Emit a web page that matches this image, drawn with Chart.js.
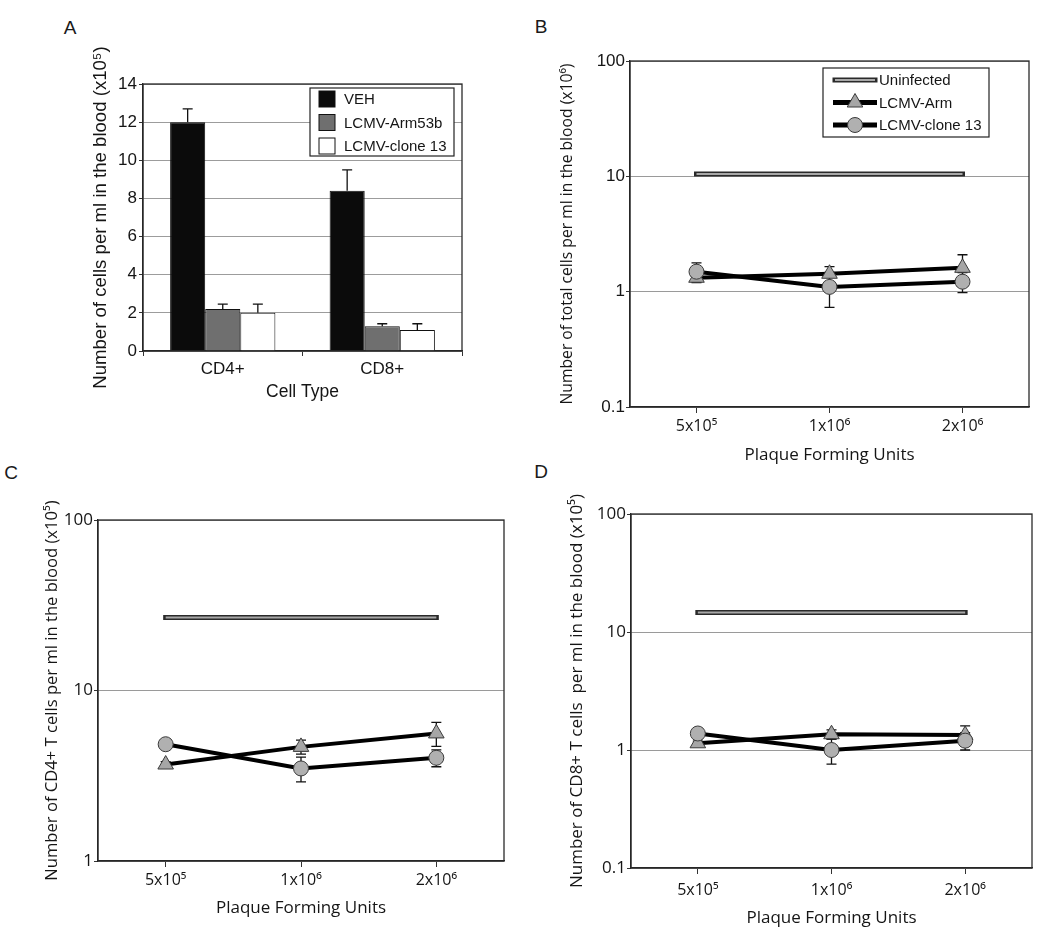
<!DOCTYPE html>
<html>
<head>
<meta charset="utf-8">
<script src="https://cdn.jsdelivr.net/npm/chart.js@4.4.1/dist/chart.umd.min.js"></script>
<style>
  body { margin: 0; background: #fff; width: 1050px; height: 933px; position: relative; overflow: hidden; }
  canvas { position: absolute; }
  .panel { position: absolute; font: 19px 'Liberation Sans', Arial, sans-serif; color: #1a1a1a; transform: translate(-50%, -50%); }
</style>
</head>
<body>
<div class="panel" style="left:70px;top:28px">A</div>
<div class="panel" style="left:541px;top:27px">B</div>
<div class="panel" style="left:11px;top:473px">C</div>
<div class="panel" style="left:541px;top:472px">D</div>
<canvas id="panelA" width="520" height="440" style="left:0;top:0"></canvas>
<canvas id="panelB" width="530" height="480" style="left:520px;top:0"></canvas>
<canvas id="panelC" width="520" height="493" style="left:0;top:440px"></canvas>
<canvas id="panelD" width="530" height="493" style="left:520px;top:440px"></canvas>
<script>
// panel A: cells per ml (x10^5)
const cellTypes = ['CD4+', 'CD8+'];
const vehCells = [12.0, 8.4];
const vehErr = [0.7, 1.1];
const arm53bCells = [2.2, 1.3];
const arm53bErr = [0.26, 0.13];
const clone13Cells = [2.0, 1.1];
const clone13Err = [0.46, 0.33];

// panels B-D share the dose axis
const pfuLabels = ['5x10\u2075', '1x10\u2076', '2x10\u2076'];

// B: total cells (x10^6)
const totalTicks = [0.1, 1, 10, 100];
const totalUninfected = [10.5, 10.5, 10.5];
const totalArm = [1.32, 1.43, 1.61];
const totalArmErr = [0.1, 0.22, 0.48];
const totalClone = [1.49, 1.1, 1.22];
const totalCloneErr = [0.29, 0.37, 0.24];

// C: CD4+ T cells (x10^5)
const cd4Ticks = [1, 10, 100];
const cd4Uninfected = [26.8, 26.8, 26.8];
const cd4Arm = [3.68, 4.67, 5.6];
const cd4ArmErr = [0.15, 0.44, 0.9];
const cd4Clone = [4.84, 3.49, 4.03];
const cd4CloneErr = [0.2, 0.58, 0.46];

// D: CD8+ T cells (x10^5)
const cd8Ticks = [0.1, 1, 10, 100];
const cd8Uninfected = [14.6, 14.6, 14.6];
const cd8Arm = [1.14, 1.36, 1.34];
const cd8ArmErr = [0.05, 0.12, 0.26];
const cd8Clone = [1.38, 1.0, 1.2];
const cd8CloneErr = [0.1, 0.24, 0.2];

const ARIAL = "'Liberation Sans', Arial, sans-serif";
const MYRIAD = "'Open Sans', sans-serif";
const INK = '#151515';

function drawErrors(chart) {
  const ctx = chart.ctx, y = chart.scales.y;
  chart.data.datasets.forEach((ds, i) => {
    if (!ds.errors) return;
    chart.getDatasetMeta(i).data.forEach((el, j) => {
      const v = ds.data[j], e = ds.errors[j];
      const top = y.getPixelForValue(v + e);
      const bot = ds.errorUpOnly ? y.getPixelForValue(v) : y.getPixelForValue(v - e);
      ctx.save();
      ctx.strokeStyle = '#111';
      ctx.lineWidth = 1.3;
      ctx.beginPath();
      ctx.moveTo(el.x, top); ctx.lineTo(el.x, bot);
      ctx.moveTo(el.x - 5, top); ctx.lineTo(el.x + 5, top);
      if (!ds.errorUpOnly) { ctx.moveTo(el.x - 5, bot); ctx.lineTo(el.x + 5, bot); }
      ctx.stroke();
      ctx.restore();
    });
  });
}

const errorBars = {
  id: 'errorBars',
  beforeDatasetsDraw(chart, args, opts) { if (opts.under) drawErrors(chart); },
  afterDatasetsDraw(chart, args, opts) { if (!opts.under) drawErrors(chart); }
};

const frame = {
  id: 'frame',
  afterDraw(chart) {
    const { ctx, chartArea: a } = chart;
    ctx.save();
    ctx.strokeStyle = '#2a2a2a';
    ctx.lineWidth = 1.3;
    ctx.strokeRect(a.left, a.top, a.right - a.left, a.bottom - a.top);
    ctx.restore();
  }
};

function marker(ctx, style, r, x, y) {
  ctx.beginPath();
  if (style === 'triangle') {
    ctx.moveTo(x, y - r);
    ctx.lineTo(x + r * 0.866, y + r * 0.5);
    ctx.lineTo(x - r * 0.866, y + r * 0.5);
    ctx.closePath();
  } else {
    ctx.arc(x, y, r, 0, Math.PI * 2);
  }
  ctx.fill();
  ctx.stroke();
}

const boxLegend = {
  id: 'boxLegend',
  afterDraw(chart, args, o) {
    const ctx = chart.ctx;
    ctx.save();
    ctx.fillStyle = '#fff';
    ctx.fillRect(o.x, o.y, o.w, o.h);
    ctx.strokeStyle = '#222';
    ctx.lineWidth = 1.2;
    ctx.strokeRect(o.x, o.y, o.w, o.h);
    ctx.font = '15px ' + ARIAL;
    ctx.textBaseline = 'middle';
    const items = chart.data.datasets.filter(d => d.label);
    items.forEach((d, i) => {
      const cy = o.y + o.first + i * o.step;
      if (chart.config.type === 'bar') {
        ctx.fillStyle = d.backgroundColor;
        ctx.strokeStyle = '#111';
        ctx.lineWidth = 1;
        ctx.fillRect(o.sx, cy - 8, 16, 16);
        ctx.strokeRect(o.sx, cy - 8, 16, 16);
      } else if (d.doubleLine) {
        ctx.lineCap = 'square';
        ctx.strokeStyle = d.borderColor; ctx.lineWidth = 5;
        ctx.beginPath(); ctx.moveTo(o.sx + 2, cy); ctx.lineTo(o.sx + o.sw - 2, cy); ctx.stroke();
        ctx.lineCap = 'butt';
        ctx.strokeStyle = '#a8a8a8'; ctx.lineWidth = 2;
        ctx.beginPath(); ctx.moveTo(o.sx + 2, cy); ctx.lineTo(o.sx + o.sw - 2, cy); ctx.stroke();
      } else {
        ctx.strokeStyle = d.borderColor; ctx.lineWidth = 5;
        ctx.beginPath(); ctx.moveTo(o.sx, cy); ctx.lineTo(o.sx + o.sw, cy); ctx.stroke();
        ctx.fillStyle = d.pointBackgroundColor; ctx.strokeStyle = d.pointBorderColor; ctx.lineWidth = 1;
        marker(ctx, d.pointStyle, d.pointRadius, o.sx + o.sw / 2, cy);
      }
      ctx.fillStyle = INK;
      ctx.fillText(d.label, o.tx, cy + 1);
    });
    ctx.restore();
  }
};

// ---------- panel A ----------
new Chart(document.getElementById('panelA'), {
  type: 'bar',
  data: {
    labels: cellTypes,
    datasets: [
      { label: 'VEH', data: vehCells, errors: vehErr, errorUpOnly: true, backgroundColor: '#0b0b0b' },
      { label: 'LCMV-Arm53b', data: arm53bCells, errors: arm53bErr, errorUpOnly: true, backgroundColor: '#6f6f6f' },
      { label: 'LCMV-clone 13', data: clone13Cells, errors: clone13Err, errorUpOnly: true, backgroundColor: '#ffffff' }
    ].map(d => Object.assign(d, { borderColor: '#111', borderWidth: 1, categoryPercentage: 0.66, barPercentage: 1 }))
  },
  options: {
    responsive: false, animation: false, events: [],
    layout: { padding: { top: 84, right: 58, left: 0, bottom: 0 } },
    plugins: {
      legend: { display: false }, tooltip: { enabled: false },
      errorBars: { under: false },
      boxLegend: { x: 310, y: 88, w: 144, h: 68, first: 11, step: 23.5, sx: 319, sw: 16, tx: 344 }
    },
    scales: {
      x: {
        afterFit: s => { s.height = 89; },
        grid: { drawOnChartArea: false, tickLength: 5, tickColor: '#333' },
        border: { color: '#222', width: 1.3 },
        ticks: { color: INK, font: { family: ARIAL, size: 17 }, padding: 3, maxRotation: 0 },
        title: { display: true, text: 'Cell Type', color: INK, font: { family: ARIAL, size: 17.5 }, padding: { top: 0, bottom: 37 } }
      },
      y: {
        min: 0, max: 14,
        afterFit: s => { s.width = 143; },
        grid: { color: '#9c9c9c', tickLength: 4, tickColor: '#333' },
        border: { color: '#222', width: 1.3 },
        ticks: { stepSize: 2, color: INK, font: { family: ARIAL, size: 17 }, padding: 2 },
        title: { display: true, text: 'Number of cells per ml in the blood (x10\u2075)', color: INK, font: { family: ARIAL, size: 18.6 }, padding: { top: 90, bottom: 0 } }
      }
    }
  },
  plugins: [errorBars, frame, boxLegend]
});

// ---------- panels B-D ----------
function doseDatasets(uninf, arm, armErr, clone, cloneErr) {
  return [
    { label: 'Uninfected', data: uninf, doubleLine: true, borderColor: '#2a2a2a', borderWidth: 5, borderCapStyle: 'square', pointRadius: 0, order: 4 },
    { data: uninf, borderColor: '#a8a8a8', borderWidth: 2, pointRadius: 0, order: 3 },
    { label: 'LCMV-Arm', data: arm, errors: armErr, borderColor: '#000', borderWidth: 4,
      pointStyle: 'triangle', pointRadius: 9, pointBackgroundColor: '#a6a6a6', pointBorderColor: '#3a3a3a', pointBorderWidth: 1, order: 2 },
    { label: 'LCMV-clone 13', data: clone, errors: cloneErr, borderColor: '#000', borderWidth: 4,
      pointStyle: 'circle', pointRadius: 7.5, pointBackgroundColor: '#b0b0b0', pointBorderColor: '#3a3a3a', pointBorderWidth: 1, order: 1 }
  ];
}

function doseChart(id, cfg) {
  return new Chart(document.getElementById(id), {
    type: 'line',
    data: { labels: pfuLabels, datasets: doseDatasets(cfg.uninf, cfg.arm, cfg.armErr, cfg.clone, cfg.cloneErr) },
    options: {
      responsive: false, animation: false, events: [],
      layout: { padding: { top: cfg.top, right: cfg.right, left: 0, bottom: 0 } },
      plugins: {
        legend: { display: false }, tooltip: { enabled: false },
        errorBars: { under: true },
        boxLegend: cfg.legend || false
      },
      scales: {
        x: {
          offset: true,
          afterFit: s => { s.height = cfg.xh; },
          grid: { drawOnChartArea: false, tickLength: 6, tickColor: '#333' },
          border: { color: '#222', width: 1.3 },
          ticks: { color: INK, font: { family: MYRIAD, size: 16 }, padding: cfg.xpad, maxRotation: 0, autoSkip: false },
          title: { display: true, text: 'Plaque Forming Units', color: INK, font: { family: MYRIAD, size: 17 }, padding: { top: 0, bottom: cfg.xtitle } }
        },
        y: {
          type: 'logarithmic',
          min: cfg.ticks[0], max: cfg.ticks[cfg.ticks.length - 1],
          afterFit: s => { s.width = cfg.yw; },
          afterBuildTicks: s => { s.ticks = cfg.ticks.map(v => ({ value: v })); },
          grid: { color: '#9a9a9a', tickLength: 4, tickColor: '#333' },
          border: { color: '#222', width: 1.3 },
          ticks: { color: INK, font: { family: cfg.tickFont, size: 17 }, padding: 1, callback: v => String(v) },
          title: { display: true, text: cfg.ytitle, color: INK, font: { family: MYRIAD, size: cfg.ysize }, padding: { top: cfg.ytpad, bottom: 0 } }
        }
      }
    },
    plugins: [errorBars, frame, boxLegend]
  });
}

doseChart('panelB', {
  uninf: totalUninfected, arm: totalArm, armErr: totalArmErr, clone: totalClone, cloneErr: totalCloneErr,
  ticks: totalTicks, top: 61, right: 21, yw: 110, xh: 73, xpad: 4, xtitle: 15,
  tickFont: ARIAL, ysize: 15.7, ytpad: 38,
  ytitle: 'Number of total cells per ml in the blood (x10\u2076)',
  legend: { x: 303, y: 68, w: 166, h: 69, first: 12, step: 22.5, sx: 313, sw: 44, tx: 359 }
});

doseChart('panelC', {
  uninf: cd4Uninfected, arm: cd4Arm, armErr: cd4ArmErr, clone: cd4Clone, cloneErr: cd4CloneErr,
  ticks: cd4Ticks, top: 80, right: 16, yw: 98, xh: 72, xpad: 4, xtitle: 15,
  tickFont: MYRIAD, ysize: 16.6, ytpad: 42,
  ytitle: 'Number of CD4+ T cells per ml in the blood (x10\u2075)'
});

doseChart('panelD', {
  uninf: cd8Uninfected, arm: cd8Arm, armErr: cd8ArmErr, clone: cd8Clone, cloneErr: cd8CloneErr,
  ticks: cd8Ticks, top: 74, right: 18, yw: 111, xh: 65, xpad: 7, xtitle: 5,
  tickFont: MYRIAD, ysize: 17, ytpad: 47,
  ytitle: 'Number of CD8+ T cells  per ml in the blood (x10\u2075)'
});
</script>
</body>
</html>
